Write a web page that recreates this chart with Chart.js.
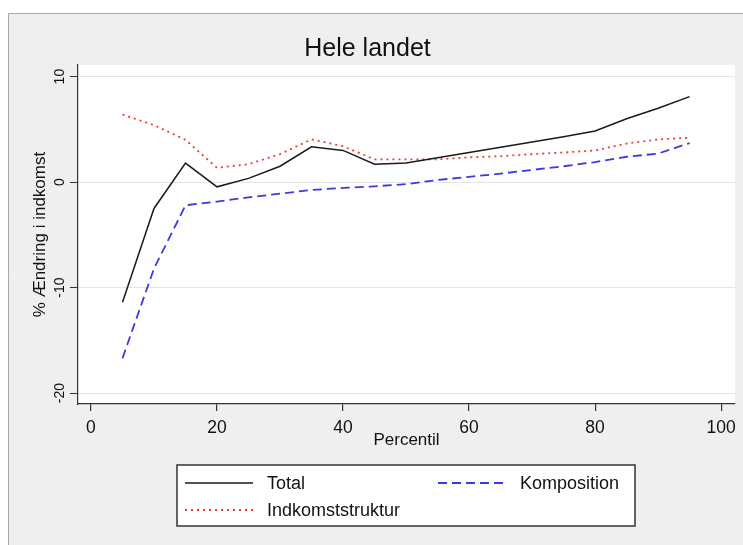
<!DOCTYPE html>
<html>
<head>
<meta charset="utf-8">
<script src="https://cdn.jsdelivr.net/npm/chart.js@4"></script>
<style>
  body { margin: 0; background: #fff; }
  #wrap { width: 743px; height: 545px; }
</style>
</head>
<body>
<div id="wrap"><canvas id="percentilChart" width="743" height="545"></canvas></div>
<script>
    var percentiles = [5, 10, 15, 20, 25, 30, 35, 40, 45, 50, 55, 60, 65, 70, 75, 80, 85, 90, 95];
    var total = [-11.4, -2.5, 1.8, -0.45, 0.35, 1.5, 3.35, 3.0, 1.7, 1.8, 2.3, 2.8, 3.3, 3.8, 4.3, 4.85, 6.0, 7.0, 8.1];
    var komposition = [-16.7, -8.2, -2.2, -1.85, -1.45, -1.1, -0.75, -0.55, -0.4, -0.2, 0.2, 0.5, 0.8, 1.15, 1.5, 1.9, 2.4, 2.7, 3.7];
    var indkomststruktur = [6.4, 5.4, 4.0, 1.35, 1.7, 2.65, 4.05, 3.4, 2.15, 2.15, 2.15, 2.35, 2.45, 2.65, 2.8, 3.0, 3.65, 4.05, 4.2];
    var xTicks = [0, 20, 40, 60, 80, 100];
    var yTicks = [-20, -10, 0, 10];

    var fontFamily = '"Liberation Sans", Arial, sans-serif';
    var toPoints = vals => vals.map((v, i) => ({ x: percentiles[i], y: v }));

    // grey Stata-like frame, white plot region and the boxed legend
    var stataFrame = {
        id: 'stataFrame',
        beforeDraw(chart) {
            var c = chart.ctx, a = chart.chartArea;
            c.save();
            c.fillStyle = '#ffffff';
            c.fillRect(0, 0, chart.width, chart.height);
            c.fillStyle = '#efefef';
            c.fillRect(8, 13, chart.width - 8, chart.height - 13);
            c.strokeStyle = '#a8a8a8';
            c.lineWidth = 1;
            c.beginPath();
            c.moveTo(8.5, chart.height); c.lineTo(8.5, 13.5); c.lineTo(chart.width, 13.5);
            c.stroke();
            c.fillStyle = '#ffffff';
            c.fillRect(a.left, a.top, a.right - a.left, a.bottom - a.top);
            c.restore();
        },
        afterDraw(chart) {
            var c = chart.ctx;
            c.save();
            c.fillStyle = '#ffffff';
            c.fillRect(177, 465, 458, 61);
            c.strokeStyle = '#333';
            c.lineWidth = 1.5;
            c.strokeRect(177, 465, 458, 61);
            var items = [
                { ds: chart.data.datasets[0], x: 185, y: 483 },
                { ds: chart.data.datasets[1], x: 438, y: 483 },
                { ds: chart.data.datasets[2], x: 185, y: 510 }
            ];
            c.font = '18px ' + fontFamily;
            c.textBaseline = 'middle';
            items.forEach(it => {
                c.strokeStyle = it.ds.borderColor;
                c.lineWidth = it.ds.borderWidth;
                c.setLineDash(it.ds.borderDash || []);
                c.beginPath();
                c.moveTo(it.x, it.y); c.lineTo(it.x + 68, it.y);
                c.stroke();
                c.setLineDash([]);
                c.fillStyle = '#111';
                c.fillText(it.ds.label, it.x + 82, it.y + 1);
            });
            c.restore();
        }
    };

    var ctx = document.getElementById('percentilChart').getContext('2d');
    var percentilChart = new Chart(ctx, {
        type: 'line',
        data: {
            datasets: [{
                label: 'Total',
                data: toPoints(total),
                borderColor: '#1a1a1a',
                borderWidth: 1.5
            }, {
                label: 'Komposition',
                data: toPoints(komposition),
                borderColor: '#3a3ae0',
                borderWidth: 1.8,
                borderDash: [9, 5]
            }, {
                label: 'Indkomststruktur',
                data: toPoints(indkomststruktur),
                borderColor: '#f03a3a',
                borderWidth: 1.8,
                borderDash: [2, 4]
            }]
        },
        options: {
            responsive: false,
            animation: false,
            elements: { point: { radius: 0 }, line: { tension: 0 } },
            layout: { padding: { left: 0, right: 8, top: 0, bottom: 0 } },
            scales: {
                x: {
                    type: 'linear',
                    min: -2.06,
                    max: 102.2,
                    afterBuildTicks: scale => { scale.ticks = xTicks.map(v => ({ value: v })); },
                    afterFit: scale => { scale.height = 141; },
                    grid: { drawOnChartArea: false, tickLength: 7, tickColor: '#333', lineWidth: 1.2 },
                    border: { color: '#333', width: 1.2 },
                    ticks: { color: '#111', padding: 7, font: { family: fontFamily, size: 17.5 } },
                    title: {
                        display: true, text: 'Percentil', color: '#111',
                        font: { family: fontFamily, size: 17 },
                        padding: { top: 0, bottom: 94 }
                    }
                },
                y: {
                    min: -21.04,
                    max: 11.1,
                    afterBuildTicks: scale => { scale.ticks = yTicks.map(v => ({ value: v })); },
                    afterFit: scale => { scale.width = 78; },
                    grid: { color: '#e4e4e4', lineWidth: 1, tickLength: 8, tickColor: '#333' },
                    border: { color: '#333', width: 1.2 },
                    ticks: {
                        color: '#111', padding: 0, minRotation: 90, maxRotation: 90,
                        crossAlign: 'center',
                        font: { family: fontFamily, size: 14 }
                    },
                    title: {
                        display: true, text: '% Ændring i indkomst', color: '#111',
                        font: { family: fontFamily, size: 17 },
                        padding: { top: 30, bottom: 0 }
                    }
                }
            },
            plugins: {
                legend: { display: false },
                tooltip: { enabled: false },
                title: {
                    display: true,
                    text: 'Hele landet',
                    color: '#111',
                    font: { family: fontFamily, size: 25, weight: 'normal' },
                    padding: { top: 34, bottom: 1 }
                }
            }
        },
        plugins: [stataFrame]
    });
</script>
</body>
</html>
